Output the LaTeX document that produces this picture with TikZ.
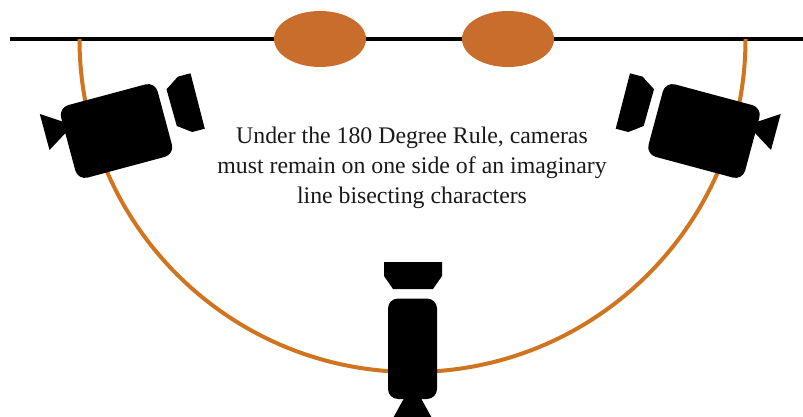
\documentclass[tikz,border=0pt]{standalone}
\usepackage{fontspec}
\setmainfont{Liberation Serif}
\usetikzlibrary{shapes.geometric}

\definecolor{actorcol}{HTML}{C86D2B}
\definecolor{arccol}{HTML}{D0741F}

\begin{document}
\begin{tikzpicture}[
    x=1pt, y=-1pt,
    actor/.style={ellipse, fill=actorcol, minimum width=92pt, minimum height=56pt, inner sep=0pt},
    axisline/.style={line width=4pt, black},
    path180/.style={line width=4pt, arccol},
    camfill/.style={fill=black},
    lbl/.style={font=\fontsize{23.8}{30}\selectfont, align=center, text=black!90},
    sidecam/.pic={
        \fill[camfill, rounded corners=10pt, rotate=15] (-50,-37.5) rectangle (50,37.5);
        \fill[camfill] (74,-57.7) -- (88.3,-2.3) -- (75.7,1) -- (60.3,-5) -- (50,-41.7) -- (61.3,-54.3) -- cycle;
        \fill[camfill] (-76.7,-17) -- (-67,19) -- (-43.5,-6) -- cycle;
    },
]
\clip (0,0) rectangle (803,417);

\coordinate (lineL) at (10,39);
\coordinate (lineR) at (803,39);
\coordinate (arcL) at (79.5,39);

\draw[axisline] (lineL) -- (lineR);
\node[actor] (actorA) at (320,39) {};
\node[actor] (actorB) at (508,39) {};

\draw[path180] (arcL) arc[start angle=180, end angle=0, radius=333];

\pic at (116.5,131) {sidecam};
\pic[xscale=-1] at (704,131) {sidecam};

% bottom camera
\fill[camfill, rounded corners=10pt] (388,298.5) rectangle (437,399);
\fill[camfill] (384,262) -- (442,262) -- (442,276) -- (433,289) -- (393,289) -- (384,276) -- cycle;
\fill[camfill] (412.5,383) -- (433,420) -- (392,420) -- cycle;

\node[lbl] (caption) at (412,168) {Under the 180 Degree Rule, cameras\\must remain on one side of an imaginary\\line bisecting characters};
\end{tikzpicture}
\end{document}
